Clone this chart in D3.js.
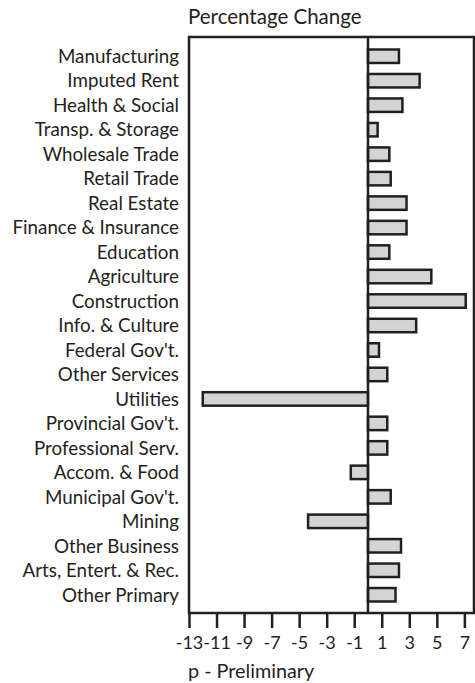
<!DOCTYPE html>
<html><head><meta charset="utf-8">
<script src="https://cdn.jsdelivr.net/npm/d3@7"></script>
<style>
html,body{margin:0;padding:0;background:#fff;}
text{font-family:"Lato","Open Sans",sans-serif;fill:#231f20;}
</style></head>
<body><svg id="c" width="475" height="683"></svg>
<script>
const categories = ["Manufacturing","Imputed Rent","Health & Social","Transp. & Storage","Wholesale Trade","Retail Trade","Real Estate","Finance & Insurance","Education","Agriculture","Construction","Info. & Culture","Federal Gov't.","Other Services","Utilities","Provincial Gov't.","Professional Serv.","Accom. & Food","Municipal Gov't.","Mining","Other Business","Arts, Entert. & Rec.","Other Primary"];
const values = [2.25,3.75,2.5,0.7,1.55,1.65,2.8,2.8,1.55,4.6,7.1,3.5,0.8,1.4,-12.0,1.4,1.4,-1.25,1.65,-4.35,2.4,2.25,2.0];
const tickValues = [-13,-11,-9,-7,-5,-3,-1,1,3,5,7];
const title = "Percentage Change";
const footnote = "p - Preliminary";

const svg = d3.select("#c");
const L=189, R=474, T=37, B=613;
const x = d3.scaleLinear().domain([-13,7.7]).range([L,R]);
const y = d3.scaleBand().domain(categories).range([44,607]).paddingInner(0.45).paddingOuter(0.225);

const data = categories.map((c,i)=>({c, v: values[i]}));

// bars
svg.append("g").selectAll("rect").data(data).join("rect")
  .attr("x", d=>x(Math.min(0,d.v)))
  .attr("width", d=>Math.abs(x(d.v)-x(0)))
  .attr("y", d=>y(d.c))
  .attr("height", y.bandwidth())
  .attr("fill","#d3d5d5")
  .attr("stroke","#231f20")
  .attr("stroke-width",2.5);

// zero line
svg.append("line").attr("x1",x(0)).attr("x2",x(0)).attr("y1",T).attr("y2",B)
  .attr("stroke","#231f20").attr("stroke-width",2.5);

// frame
svg.append("rect").attr("x",L).attr("y",T).attr("width",R-L).attr("height",B-T)
  .attr("fill","none").attr("stroke","#231f20").attr("stroke-width",2.5);

// x axis
const xa = svg.append("g").attr("transform",`translate(0,${B})`)
  .call(d3.axisBottom(x).tickValues(tickValues).tickSize(15).tickPadding(8).tickFormat(d=>String(d)));
xa.select(".domain").remove();
xa.selectAll(".tick line").attr("stroke","#231f20").attr("stroke-width",2.5);
xa.selectAll(".tick text").attr("font-size",18).attr("font-family","Lato, sans-serif").attr("fill","#231f20");

// y labels
svg.append("g").selectAll("text").data(data).join("text")
  .attr("x",179).attr("y",d=>y(d.c)+y.bandwidth()/2)
  .attr("dy","0.36em").attr("text-anchor","end").attr("font-size",18.8)
  .text(d=>d.c);

svg.append("text").attr("x",188).attr("y",24).attr("font-size",20.5).text(title);
svg.append("text").attr("x",188).attr("y",678).attr("font-size",19.8).text(footnote);
</script></body></html>
